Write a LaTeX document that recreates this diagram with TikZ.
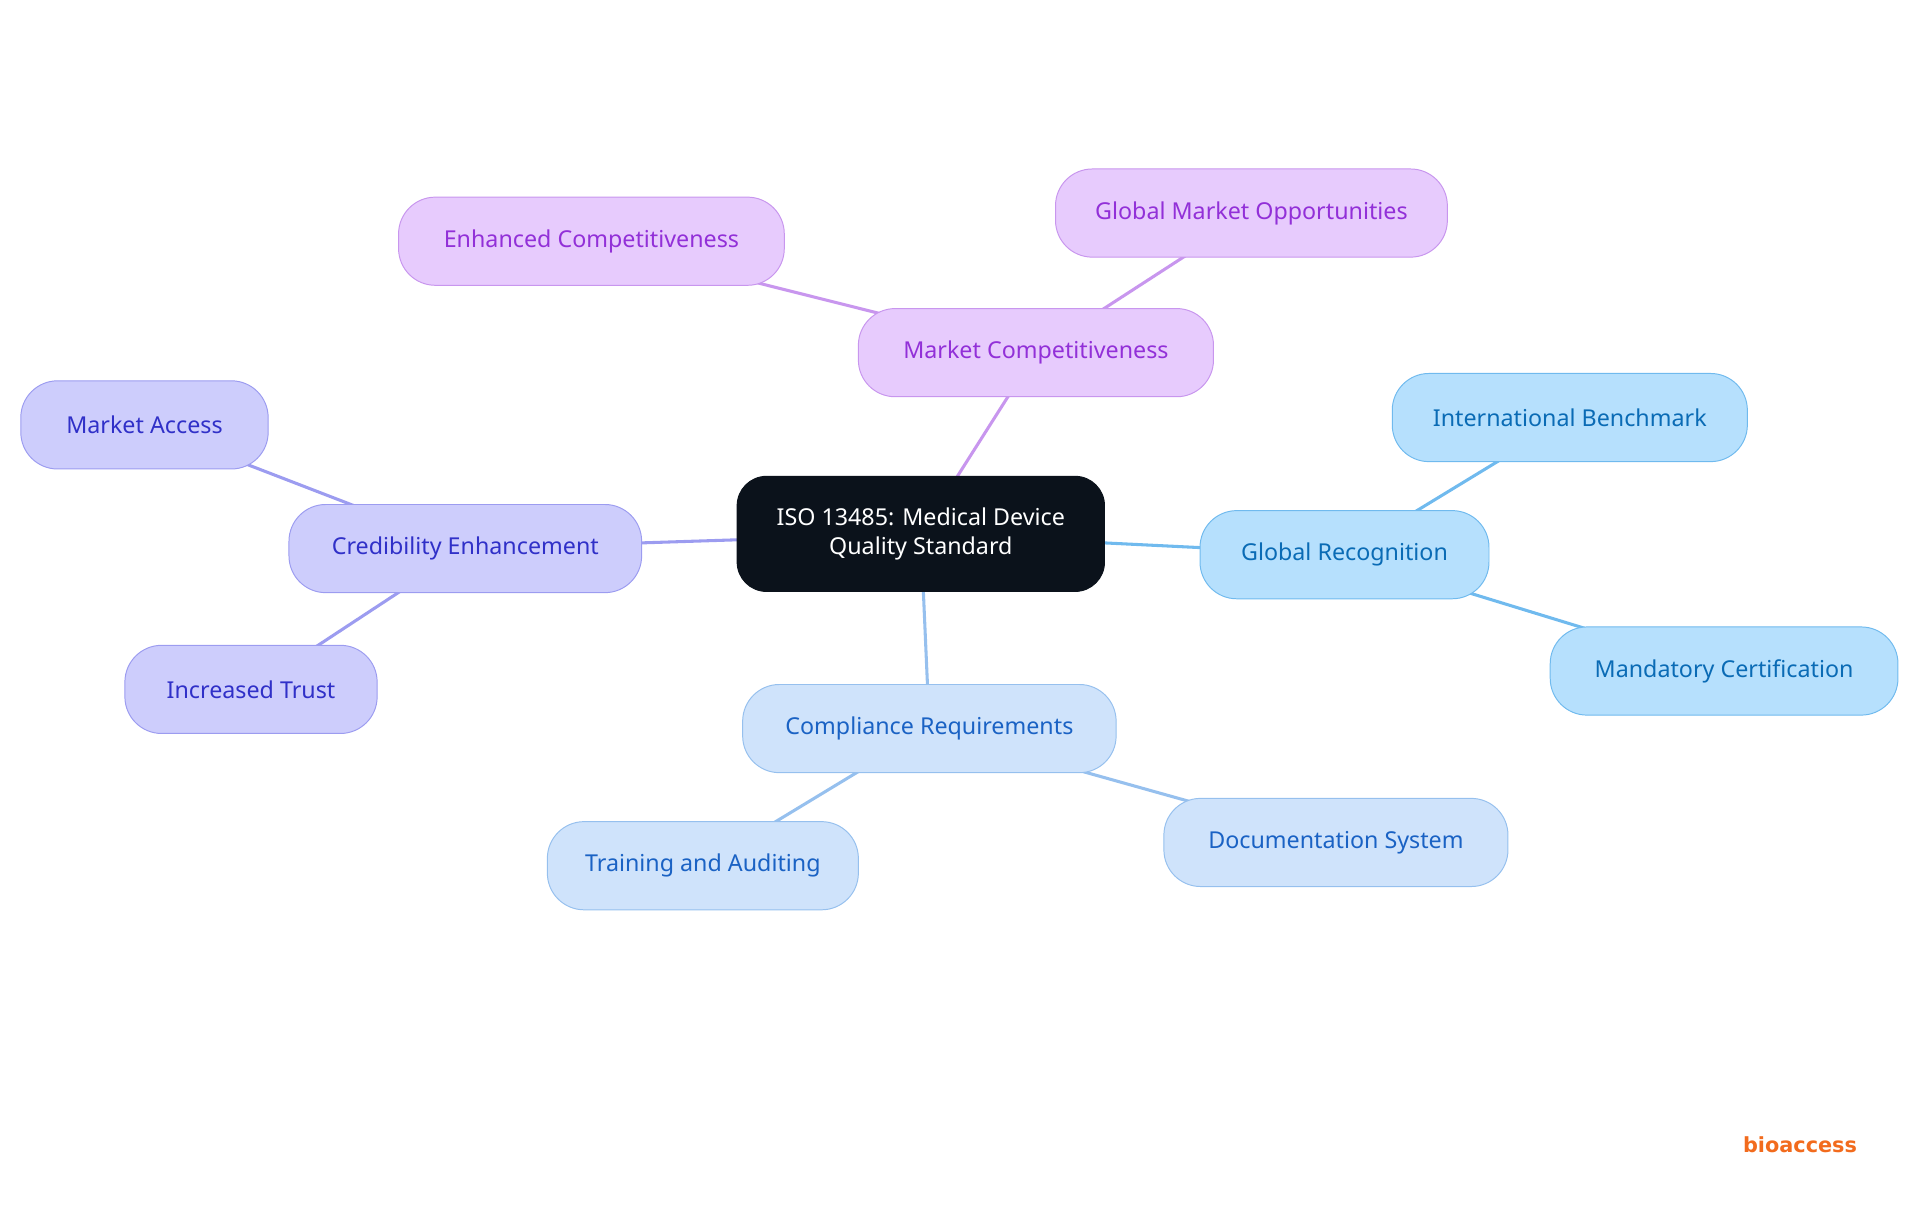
\documentclass[tikz,border=0pt]{standalone}
\usepackage{fontspec}
\setmainfont{Noto Sans}
\newfontfamily\logofont{DejaVu Sans}
\usetikzlibrary{backgrounds}
\definecolor{pf}{HTML}{E7CBFD}\definecolor{pd}{HTML}{C896EE}\definecolor{pt}{HTML}{9230D8}
\definecolor{vf}{HTML}{CDCDFC}\definecolor{vd}{HTML}{9C9CF0}\definecolor{vt}{HTML}{3030C8}
\definecolor{bf}{HTML}{B6E0FD}\definecolor{bd}{HTML}{70BAEE}\definecolor{bt}{HTML}{0A6BB5}
\definecolor{cf}{HTML}{CFE3FB}\definecolor{cd}{HTML}{96C0EE}\definecolor{ct}{HTML}{1A62C4}
\definecolor{dk}{HTML}{0B121B}\definecolor{og}{HTML}{F26B1D}
\begin{document}
\begin{tikzpicture}[x=1pt,y=-1pt,
 box/.style={rounded corners=30pt,minimum height=72pt,font=\fontsize{19}{23}\selectfont,draw,line width=0.8pt,inner sep=0pt},
 pbox/.style={box,fill=pf,draw=pd,text=pt},
 vbox/.style={box,fill=vf,draw=vd,text=vt},
 bbox/.style={box,fill=bf,draw=bd,text=bt},
 cbox/.style={box,fill=cf,draw=cd,text=ct},
 ln/.style={line width=2.5pt}]
\useasboundingbox (0,0) rectangle (1568,992);
\node[box,fill=dk,draw=dk,text=white,minimum width=300pt,minimum height=94pt,align=center,rounded corners=24pt] (c) at (752,436) {ISO 13485: Medical Device\\Quality Standard};
\node[pbox,minimum width=290pt] (mc) at (846,288) {Market Competitiveness};
\node[pbox,minimum width=315pt] (ec) at (483,197) {Enhanced Competitiveness};
\node[pbox,minimum width=320pt] (gm) at (1022,174) {Global Market Opportunities};
\node[vbox,minimum width=288pt] (ce) at (380,448) {Credibility Enhancement};
\node[vbox,minimum width=202pt] (ma) at (118,347) {Market Access};
\node[vbox,minimum width=206pt] (it) at (205,563) {Increased Trust};
\node[bbox,minimum width=236pt] (gr) at (1098,453) {Global Recognition};
\node[bbox,minimum width=290pt] (ib) at (1282,341) {International Benchmark};
\node[bbox,minimum width=284pt] (mcert) at (1408,548) {Mandatory Certification};
\node[cbox,minimum width=305pt] (cr) at (759,595) {Compliance Requirements};
\node[cbox,minimum width=254pt] (ta) at (574,707) {Training and Auditing};
\node[cbox,minimum width=281pt] (ds) at (1091,688) {Documentation System};
\begin{scope}[on background layer]
\draw[ln,pd] (c.center) -- (mc.center); \draw[ln,pd] (mc.center) -- (ec.center); \draw[ln,pd] (mc.center) -- (gm.center);
\draw[ln,vd] (c.center) -- (ce.center); \draw[ln,vd] (ce.center) -- (ma.center); \draw[ln,vd] (ce.center) -- (it.center);
\draw[ln,bd] (c.center) -- (gr.center); \draw[ln,bd] (gr.center) -- (ib.center); \draw[ln,bd] (gr.center) -- (mcert.center);
\draw[ln,cd] (c.center) -- (cr.center); \draw[ln,cd] (cr.center) -- (ta.center); \draw[ln,cd] (cr.center) -- (ds.center);
\end{scope}
\node[font=\logofont\bfseries\fontsize{17}{17}\selectfont,text=og,inner sep=0pt] (logo) at (1470,935) {bioaccess};
\end{tikzpicture}
\end{document}
